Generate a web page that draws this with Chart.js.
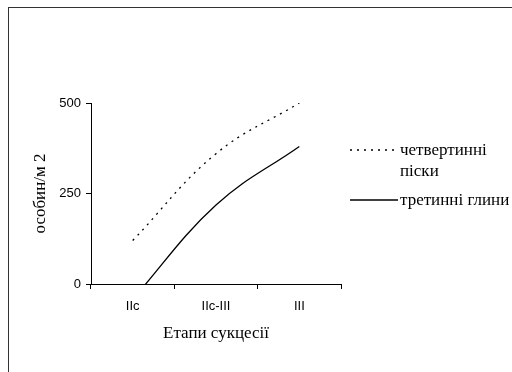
<!DOCTYPE html>
<html>
<head>
<meta charset="utf-8">
<title>Етапи сукцесії</title>
<script src="https://cdn.jsdelivr.net/npm/chart.js@4.4.1/dist/chart.umd.min.js"></script>
<style>
  html, body { margin: 0; padding: 0; background: #fff; }
</style>
</head>
<body>
<canvas id="succChart" width="512" height="372"></canvas>
<script>
const stages = ["IIc", "IIc-III", "III"];
const sands = [120, 360, 500];
const clays = [-42, 218, 380];
const seriesNames = [["четвертинні", "піски"], ["третинні глини"]];
const yTicks = [0, 250, 500];

const serif = "'Liberation Serif', 'Times New Roman', serif";
const sans = "'Liberation Sans', Arial, sans-serif";

// thin frame round the whole chart (only top/left edge fall inside the canvas)
const frame = {
    id: "frame",
    beforeDraw(chart) {
        const ctx = chart.ctx;
        ctx.save();
        ctx.strokeStyle = "#333";
        ctx.lineWidth = 1;
        ctx.strokeRect(8.5, 7.5, 700, 700);
        ctx.restore();
    }
};

// legend on the right, sample line + wrapped label
const sideLegend = {
    id: "sideLegend",
    afterDraw(chart) {
        const ctx = chart.ctx;
        const rows = [151, 201];
        ctx.save();
        ctx.font = "17px " + serif;
        ctx.fillStyle = "#000";
        ctx.textBaseline = "middle";
        chart.data.datasets.forEach((ds, i) => {
            const y = rows[i];
            ctx.strokeStyle = ds.borderColor;
            ctx.lineWidth = ds.borderWidth;
            ctx.setLineDash(ds.borderDash || []);
            ctx.beginPath();
            ctx.moveTo(350, y - 1);
            ctx.lineTo(398, y - 1);
            ctx.stroke();
            ctx.setLineDash([]);
            [].concat(ds.label).forEach((line, j) => {
                ctx.fillText(line, 400, y + j * 21);
            });
        });
        ctx.restore();
    }
};

new Chart(document.getElementById("succChart"), {
    type: "line",
    data: {
        labels: stages,
        datasets: [
            { label: seriesNames[0], data: sands, borderColor: "#000", borderWidth: 1.3, borderDash: [2, 5], tension: 0.4, pointRadius: 0, fill: false },
            { label: seriesNames[1], data: clays, borderColor: "#000", borderWidth: 1.3, tension: 0.4, pointRadius: 0, fill: false }
        ]
    },
    options: {
        responsive: false,
        animation: false,
        layout: { padding: { left: 0, right: 171, top: 103, bottom: 28 } },
        plugins: { legend: { display: false }, tooltip: { enabled: false } },
        scales: {
            x: {
                offset: true,
                afterFit(s) { s.height = 60; },
                grid: { drawOnChartArea: false, color: "#000", tickLength: 5, offset: true },
                border: { color: "#000", width: 1 },
                ticks: { color: "#000", font: { family: sans, size: 13 }, padding: 10, maxRotation: 0 },
                title: { display: true, text: "Етапи сукцесії", color: "#000", font: { family: serif, size: 17 }, padding: { top: 0, bottom: 0 } }
            },
            y: {
                min: 0,
                max: 500,
                afterFit(s) { s.width = 91; },
                afterBuildTicks(s) { s.ticks = yTicks.map(v => ({ value: v })); },
                grid: { drawOnChartArea: false, color: "#000", tickLength: 5 },
                border: { color: "#000", width: 1 },
                ticks: { color: "#000", font: { family: sans, size: 13 }, padding: 5 },
                title: { display: true, text: "особин/м 2", color: "#000", font: { family: serif, size: 17 }, padding: { top: 30, bottom: 0 } }
            }
        }
    },
    plugins: [frame, sideLegend]
});
</script>
</body>
</html>
